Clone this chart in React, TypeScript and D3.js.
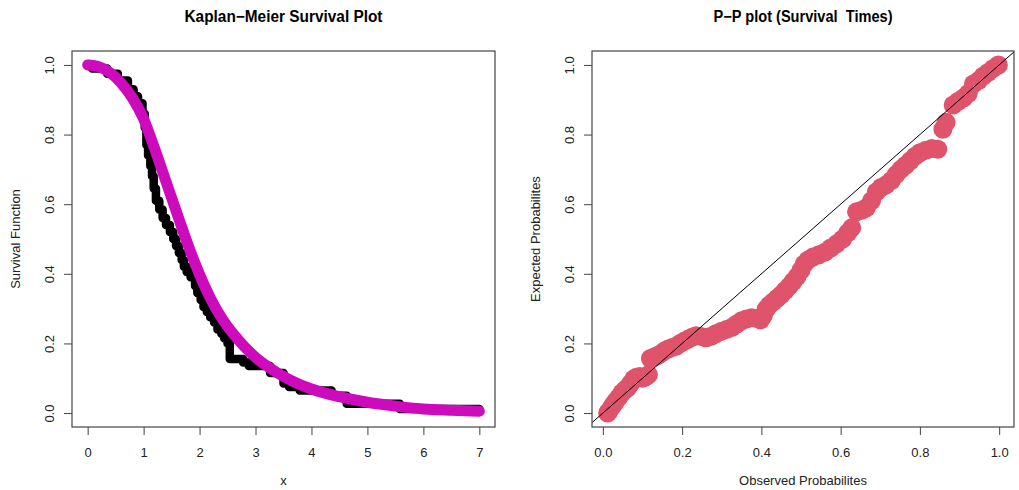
import React, { useRef, useEffect } from 'react'
import * as d3 from 'd3'

// Kaplan-Meier estimate (step after each time)
const kmTime = [0, 0.08, 0.35, 0.54, 0.72, 0.82, 0.9, 0.98, 1.02, 1.05, 1.08, 1.12, 1.15, 1.18, 1.22, 1.28, 1.34, 1.4, 1.47, 1.53, 1.58, 1.63, 1.68, 1.72, 1.77, 1.84, 1.92, 1.96, 2.02, 2.07, 2.13, 2.19, 2.26, 2.32, 2.39, 2.44, 2.5, 2.54, 2.78, 2.88, 3.26, 3.5, 3.6, 3.79, 4.36, 4.63, 5.58, 7.0]
const kmSurv = [1.0, 0.99, 0.975, 0.955, 0.93, 0.91, 0.89, 0.86, 0.82, 0.77, 0.74, 0.71, 0.68, 0.645, 0.61, 0.585, 0.56, 0.54, 0.52, 0.5, 0.48, 0.46, 0.44, 0.42, 0.405, 0.39, 0.365, 0.345, 0.325, 0.305, 0.29, 0.275, 0.26, 0.24, 0.228, 0.215, 0.2, 0.155, 0.145, 0.135, 0.115, 0.085, 0.075, 0.065, 0.05, 0.027, 0.012, 0.012]

// fitted survival curve
const fitTime = [0, 0.2, 0.4, 0.6, 0.8, 1.0, 1.2, 1.4, 1.6, 1.8, 2.0, 2.2, 2.4, 2.6, 2.8, 3.0, 3.25, 3.5, 3.75, 4.0, 4.5, 5.0, 5.5, 6.0, 6.5, 7.0]
const fitSurv = [1.0, 0.995, 0.978, 0.948, 0.905, 0.845, 0.758, 0.665, 0.572, 0.48, 0.398, 0.328, 0.272, 0.228, 0.191, 0.16, 0.13, 0.105, 0.085, 0.069, 0.047, 0.031, 0.02, 0.012, 0.008, 0.005]

// P-P plot
const ppObserved = [0.012, 0.018, 0.025, 0.032, 0.04, 0.048, 0.055, 0.062, 0.07, 0.078, 0.085, 0.093, 0.1, 0.108, 0.115, 0.12, 0.128, 0.136, 0.145, 0.155, 0.165, 0.175, 0.185, 0.195, 0.205, 0.215, 0.225, 0.235, 0.248, 0.26, 0.272, 0.285, 0.298, 0.312, 0.325, 0.338, 0.35, 0.362, 0.375, 0.388, 0.398, 0.405, 0.412, 0.42, 0.43, 0.44, 0.45, 0.46, 0.47, 0.48, 0.49, 0.5, 0.508, 0.518, 0.53, 0.545, 0.56, 0.575, 0.59, 0.605, 0.618, 0.628, 0.64, 0.652, 0.665, 0.678, 0.69, 0.702, 0.715, 0.728, 0.74, 0.752, 0.764, 0.776, 0.788, 0.8, 0.815, 0.83, 0.845, 0.858, 0.866, 0.884, 0.896, 0.91, 0.922, 0.935, 0.948, 0.96, 0.972, 0.985, 0.998]
const ppExpected = [0.0, 0.01, 0.022, 0.033, 0.045, 0.058, 0.066, 0.072, 0.085, 0.098, 0.103, 0.105, 0.1, 0.104, 0.11, 0.157, 0.16, 0.164, 0.17, 0.178, 0.184, 0.188, 0.192, 0.2, 0.206, 0.212, 0.218, 0.222, 0.22, 0.216, 0.22, 0.228, 0.234, 0.24, 0.246, 0.256, 0.265, 0.27, 0.274, 0.272, 0.268, 0.28, 0.298, 0.31, 0.32, 0.33, 0.34, 0.352, 0.364, 0.378, 0.392, 0.41, 0.428, 0.44, 0.448, 0.455, 0.462, 0.474, 0.486, 0.5, 0.518, 0.532, 0.578, 0.582, 0.59, 0.61, 0.635, 0.648, 0.656, 0.668, 0.685, 0.7, 0.712, 0.725, 0.738, 0.748, 0.755, 0.76, 0.758, 0.815, 0.835, 0.885, 0.895, 0.905, 0.918, 0.945, 0.955, 0.968, 0.978, 0.99, 1.0]

const kmXTicks = [0, 1, 2, 3, 4, 5, 6, 7]
const probTicks = [0, 0.2, 0.4, 0.6, 0.8, 1.0]

const WIDTH = 1019
const HEIGHT = 490
const FONT = '"Liberation Sans", Arial, Helvetica, sans-serif'

const pad = (ext: number[]) => {
    const d = ext[1] - ext[0]
    return [ext[0] - 0.04 * d, ext[1] + 0.04 * d]
}

const drawFrame = (g: any, x: any, y: any, xTicks: number[], yTicks: number[], fmt: (v: number) => string,
    title: string, titleLen: number, xLabel: string, yLabel: string) => {
    const [x0, x1] = x.range()
    const [y0, y1] = y.range()

    const xAxis = g.append('g')
        .attr('transform', `translate(0,${y0})`)
        .call(d3.axisBottom(x).tickValues(xTicks).tickSize(8).tickFormat(fmt as any))
    xAxis.select('.domain').remove()
    xAxis.selectAll('line').attr('stroke', '#444')
    xAxis.selectAll('text')
        .attr('y', 30).attr('dy', 0)
        .attr('font-family', FONT).attr('font-size', 13).attr('fill', '#222')

    const yAxis = g.append('g')
        .attr('transform', `translate(${x0},0)`)
        .call(d3.axisLeft(y).tickValues(yTicks).tickSize(8).tickFormat(d3.format('.1f') as any))
    yAxis.select('.domain').remove()
    yAxis.selectAll('line').attr('stroke', '#444')
    yAxis.selectAll('text')
        .attr('x', 0).attr('y', -18).attr('dy', 0)
        .attr('transform', 'rotate(-90)')
        .attr('text-anchor', 'middle')
        .attr('font-family', FONT).attr('font-size', 13).attr('fill', '#222')

    g.append('rect')
        .attr('x', x0).attr('y', y1)
        .attr('width', x1 - x0).attr('height', y0 - y1)
        .attr('fill', 'none').attr('stroke', '#444').attr('stroke-width', 1.2)

    g.append('text')
        .attr('x', (x0 + x1) / 2).attr('y', 22)
        .attr('text-anchor', 'middle')
        .attr('font-family', FONT).attr('font-weight', 'bold').attr('font-size', 16)
        .attr('textLength', titleLen).attr('lengthAdjust', 'spacingAndGlyphs')
        .style('white-space', 'pre')
        .text(title)

    g.append('text')
        .attr('x', (x0 + x1) / 2).attr('y', 485)
        .attr('text-anchor', 'middle')
        .attr('font-family', FONT).attr('font-size', 13).attr('fill', '#222')
        .text(xLabel)

    g.append('text')
        .attr('transform', `translate(${x0 - 52},${(y0 + y1) / 2}) rotate(-90)`)
        .attr('text-anchor', 'middle')
        .attr('font-family', FONT).attr('font-size', 13).attr('fill', '#222')
        .text(yLabel)
}

export default function App() {
    const visEl = useRef<HTMLDivElement>(null)

    useEffect(() => {
        const root = d3.select(visEl.current)
        root.selectAll('*').remove()
        const svg = root.append('svg')
            .attr('width', WIDTH).attr('height', HEIGHT)
            .style('position', 'absolute').style('left', 0).style('top', 0)
            .style('background', '#fff')

        // left panel: Kaplan-Meier
        const xKM = d3.scaleLinear().domain(pad([0, 7])).range([72, 495])
        const yKM = d3.scaleLinear().domain(pad([0, 1])).range([427, 51])
        const left = svg.append('g')

        left.append('defs').append('clipPath').attr('id', 'clipL')
            .append('rect').attr('x', 72).attr('y', 51).attr('width', 423).attr('height', 376)

        const kmPts = kmTime.map((t, i) => [t, kmSurv[i]] as [number, number])
        const stepLine = d3.line<[number, number]>()
            .x(d => xKM(d[0])).y(d => yKM(d[1]))
            .curve(d3.curveStepAfter)
        left.append('path')
            .attr('clip-path', 'url(#clipL)')
            .attr('d', stepLine(kmPts))
            .attr('fill', 'none').attr('stroke', '#000').attr('stroke-width', 8.5)
            .attr('stroke-linejoin', 'round').attr('stroke-linecap', 'round')

        const fitPts = fitTime.map((t, i) => [t, fitSurv[i]] as [number, number])
        const smooth = d3.line<[number, number]>()
            .x(d => xKM(d[0])).y(d => yKM(d[1]))
            .curve(d3.curveMonotoneX)
        left.append('path')
            .attr('d', smooth(fitPts))
            .attr('fill', 'none').attr('stroke', '#CD0BBC').attr('stroke-width', 11)
            .attr('stroke-linejoin', 'round').attr('stroke-linecap', 'round')

        drawFrame(left, xKM, yKM, kmXTicks, probTicks, d3.format('d') as any,
            'Kaplan\u2212Meier Survival Plot', 198, 'x', 'Survival Function')

        // right panel: P-P plot
        const xPP = d3.scaleLinear().domain(pad(d3.extent(ppObserved) as number[])).range([592, 1014])
        const yPP = d3.scaleLinear().domain(pad(d3.extent(ppExpected) as number[])).range([427, 51])
        const right = svg.append('g')

        right.append('defs').append('clipPath').attr('id', 'clipR')
            .append('rect').attr('x', 592).attr('y', 51).attr('width', 422).attr('height', 376)

        right.append('g').attr('clip-path', 'url(#clipR)')
            .selectAll('circle')
            .data(ppObserved)
            .join('circle')
            .attr('cx', d => xPP(d))
            .attr('cy', (d, i) => yPP(ppExpected[i]))
            .attr('r', 9.5)
            .attr('fill', '#DF536B')

        const [dx0, dx1] = xPP.domain()
        right.append('line')
            .attr('clip-path', 'url(#clipR)')
            .attr('x1', xPP(dx0)).attr('y1', yPP(dx0))
            .attr('x2', xPP(dx1)).attr('y2', yPP(dx1))
            .attr('stroke', '#000').attr('stroke-width', 1)

        drawFrame(right, xPP, yPP, probTicks, probTicks, d3.format('.1f') as any,
            'P\u2212P plot (Survival  Times)', 179, 'Observed Probabilites', 'Expected Probabilites')
    }, [])

    return (
        <div>
            <div ref={visEl}></div>
        </div>
    )
}
